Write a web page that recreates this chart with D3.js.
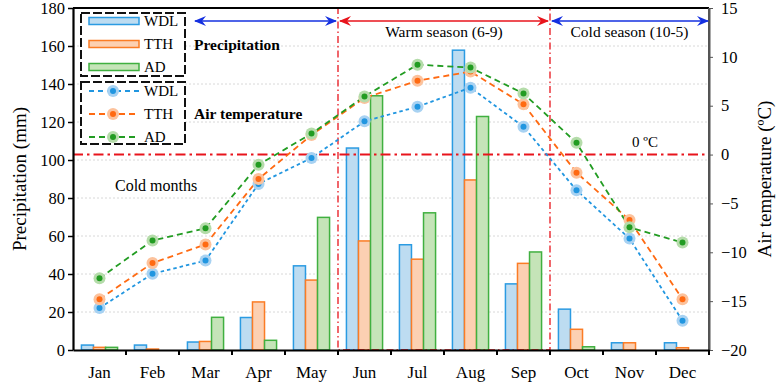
<!DOCTYPE html>
<html>
<head>
<meta charset="utf-8">
<script src="https://cdn.jsdelivr.net/npm/d3@7"></script>
<style>
  body { margin: 0; background: #fff; }
  svg { display: block; }
  svg text { font-family: "Liberation Serif", "DejaVu Serif", serif !important; }
</style>
</head>
<body>
<div id="chart"></div>
<script>
// monthly precipitation (bars) and air temperature (lines) for three stations
const months = ["Jan","Feb","Mar","Apr","May","Jun","Jul","Aug","Sep","Oct","Nov","Dec"];
const stations = ["WDL","TTH","AD"];

const precipWDL = [2.6, 2.6, 4.2, 17.1, 44.3, 106.3, 55.4, 157.8, 34.8, 21.5, 3.8, 3.8];
const precipTTH = [1.4, 0.5, 4.5, 25.3, 36.8, 57.4, 47.8, 89.5, 45.6, 10.9, 3.8, 1.2];
const precipAD  = [1.4, 0, 17.2, 5.1, 69.8, 133.8, 72.2, 122.9, 51.6, 1.7, 0, 0];

const tempWDL = [-15.7, -12.2, -10.85, -3.0, -0.35, 3.4, 4.9, 6.85, 2.85, -3.65, -8.6, -17.0];
const tempTTH = [-14.8, -11.1, -9.2, -2.5, 2.0, 5.8, 7.55, 8.5, 5.15, -1.85, -6.7, -14.8];
const tempAD  = [-12.65, -8.8, -7.55, -1.05, 2.15, 5.95, 9.2, 8.9, 6.25, 1.2, -7.45, -9.0];

const precipTicks = [0, 20, 40, 60, 80, 100, 120, 140, 160, 180];
const tempTicks = [-20, -15, -10, -5, 0, 5, 10, 15];

const barFill   = {WDL: "#bddcf1", TTH: "#fcd0b2", AD: "#c5e4b8"};
const barStroke = {WDL: "#2b9be2", TTH: "#fb7c25", AD: "#40b040"};
const lineColor = {WDL: "#2196e0", TTH: "#ff6a12", AD: "#229c22"};
const haloColor = {WDL: "#a8d2f2", TTH: "#fcc29c", AD: "#b5dcaa"};
const lineDash  = {WDL: "3.5,3", TTH: "6,4", AD: "6,4"};

const precip = {WDL: precipWDL, TTH: precipTTH, AD: precipAD};
const temp = {WDL: tempWDL, TTH: tempTTH, AD: tempAD};

const W = 782, H = 386;
const margin = {top: 8, right: 73, bottom: 36, left: 73};
const red = "#e8141c";
const serif = "Liberation Serif";

const svg = d3.select("#chart").append("svg")
  .attr("width", W)
  .attr("height", H)
  .attr("font-family", serif);

const x = d3.scaleBand()
  .domain(months)
  .range([margin.left, W - margin.right])
  .padding(0);

const xs = d3.scaleBand()
  .domain(stations)
  .range([0, x.bandwidth()])
  .paddingInner(0)
  .paddingOuter(0.7);

const y = d3.scaleLinear().domain([0, 180]).range([H - margin.bottom, margin.top]);
const yT = d3.scaleLinear().domain([-20, 15]).range([H - margin.bottom, margin.top]);

const x0 = margin.left, x1 = W - margin.right;
const yTop = margin.top, yBot = H - margin.bottom;

// grid lines (dotted, light)
svg.append("g")
  .selectAll("line")
  .data(precipTicks.filter(d => d > 0 && d < 180))
  .join("line")
  .attr("x1", x0).attr("x2", x1)
  .attr("y1", d => y(d)).attr("y2", d => y(d))
  .attr("stroke", "#d8d8d8")
  .attr("stroke-width", 1)
  .attr("stroke-dasharray", "2,2");

// bars
svg.append("g")
  .selectAll("g")
  .data(months)
  .join("g")
  .attr("transform", d => `translate(${x(d)},0)`)
  .selectAll("rect")
  .data((m, i) => stations.map(s => ({s, v: precip[s][i]})))
  .join("rect")
  .attr("x", d => xs(d.s))
  .attr("y", d => y(d.v))
  .attr("width", xs.bandwidth())
  .attr("height", d => y(0) - y(d.v))
  .attr("fill", d => barFill[d.s])
  .attr("stroke", d => barStroke[d.s])
  .attr("stroke-width", 1.5);

// warm season box (red dash-dot)
const xJun = x("Jun"), xOct = x("Oct");
svg.append("rect")
  .attr("x", xJun).attr("y", yTop)
  .attr("width", xOct - xJun).attr("height", yBot - yTop)
  .attr("fill", "none")
  .attr("stroke", red)
  .attr("stroke-width", 1.3)
  .attr("stroke-dasharray", "7,3,1.5,3");

// 0 degC line
svg.append("line")
  .attr("x1", x0).attr("x2", x1)
  .attr("y1", yT(0)).attr("y2", yT(0))
  .attr("stroke", red)
  .attr("stroke-width", 2)
  .attr("stroke-dasharray", "10,4,2.5,4");

svg.append("text")
  .attr("x", 645).attr("y", yT(0) - 8)
  .attr("text-anchor", "middle")
  .attr("font-size", "15px")
  .text("0 ºC");

// temperature lines
const line = d3.line()
  .x((d, i) => x(months[i]) + x.bandwidth() / 2)
  .y(d => yT(d));

stations.forEach(s => {
  svg.append("path")
    .datum(temp[s])
    .attr("d", line)
    .attr("fill", "none")
    .attr("stroke", lineColor[s])
    .attr("stroke-width", 1.8)
    .attr("stroke-dasharray", lineDash[s]);
});

stations.forEach(s => {
  const g = svg.append("g");
  g.selectAll("circle.halo")
    .data(temp[s])
    .join("circle")
    .attr("class", "halo")
    .attr("cx", (d, i) => x(months[i]) + x.bandwidth() / 2)
    .attr("cy", d => yT(d))
    .attr("r", 6)
    .attr("fill", haloColor[s]);
  g.selectAll("circle.dot")
    .data(temp[s])
    .join("circle")
    .attr("class", "dot")
    .attr("cx", (d, i) => x(months[i]) + x.bandwidth() / 2)
    .attr("cy", d => yT(d))
    .attr("r", 3)
    .attr("fill", lineColor[s]);
});

// frame
svg.append("line").attr("x1", x0).attr("x2", x1).attr("y1", yTop).attr("y2", yTop)
  .attr("stroke", "#000").attr("stroke-width", 2);
svg.append("line").attr("x1", x1).attr("x2", x1).attr("y1", yTop).attr("y2", yBot)
  .attr("stroke", "#555").attr("stroke-width", 2);

// left axis
const yAxis = svg.append("g")
  .attr("transform", `translate(${x0},0)`)
  .call(d3.axisLeft(y).tickValues(precipTicks).tickSize(5).tickSizeOuter(0));
yAxis.attr("font-family", serif);
yAxis.select(".domain").attr("stroke-width", 2.2);
yAxis.selectAll(".tick line").attr("stroke-width", 1.5);
yAxis.selectAll("text")
  .attr("font-size", "16.5px")
  .attr("fill", "#000")
  .attr("x", -8);

// right axis
const yAxisR = svg.append("g")
  .attr("transform", `translate(${x1},0)`)
  .call(d3.axisRight(yT).tickValues(tempTicks).tickSize(4).tickSizeOuter(0));
yAxisR.attr("font-family", serif);
yAxisR.select(".domain").attr("stroke", "#555").attr("stroke-width", 2);
yAxisR.selectAll(".tick line").attr("stroke", "#555");
yAxisR.selectAll("text")
  .attr("font-size", "16.5px")
  .attr("fill", "#000")
  .attr("x", 12);

// bottom axis
const xAxis = svg.append("g")
  .attr("transform", `translate(0,${yBot})`)
  .call(d3.axisBottom(x).tickSize(0).tickSizeOuter(0));
xAxis.attr("font-family", serif);
xAxis.select(".domain").attr("stroke-width", 2.2);
xAxis.selectAll("text")
  .attr("font-size", "17px")
  .attr("fill", "#000")
  .attr("y", 16);
svg.append("g")
  .selectAll("line")
  .data(months.slice(1).concat(["end"]))
  .join("line")
  .attr("x1", d => d === "end" ? x1 : x(d))
  .attr("x2", d => d === "end" ? x1 : x(d))
  .attr("y1", yBot).attr("y2", yBot + 5)
  .attr("stroke", "#000").attr("stroke-width", 2);

// axis titles
svg.append("text")
  .attr("transform", `translate(22,${(yTop + yBot) / 2}) rotate(-90)`)
  .attr("text-anchor", "middle")
  .attr("dominant-baseline", "middle")
  .attr("font-size", "19px")
  .text("Precipitation (mm)");

svg.append("text")
  .attr("transform", `translate(767,${(yTop + yBot) / 2}) rotate(-90)`)
  .attr("text-anchor", "middle")
  .attr("dominant-baseline", "middle")
  .attr("font-size", "19px")
  .text("Air temperature (ºC)");

// season arrows
const defs = svg.append("defs");
function marker(id, color, orient) {
  defs.append("marker")
    .attr("id", id)
    .attr("viewBox", "0 0 12 10")
    .attr("refX", 11).attr("refY", 5)
    .attr("markerWidth", 12).attr("markerHeight", 10)
    .attr("markerUnits", "userSpaceOnUse")
    .attr("orient", orient)
    .append("path")
    .attr("d", "M0,0 L12,5 L0,10 L4,5 Z")
    .attr("fill", color);
}
marker("arrBlue", "#1530e0", "auto-start-reverse");
marker("arrRed", red, "auto-start-reverse");

const arrowY = 21;
const arrows = [
  {a: 195, b: xJun - 2, c: "#1530e0", m: "arrBlue"},
  {a: xJun + 2, b: xOct - 2, c: red, m: "arrRed"},
  {a: xOct + 2, b: x1 - 1, c: "#1530e0", m: "arrBlue"}
];
svg.append("g")
  .selectAll("line")
  .data(arrows)
  .join("line")
  .attr("x1", d => d.a).attr("x2", d => d.b)
  .attr("y1", arrowY).attr("y2", arrowY)
  .attr("stroke", d => d.c)
  .attr("stroke-width", 1.3)
  .attr("marker-start", d => `url(#${d.m})`)
  .attr("marker-end", d => `url(#${d.m})`);

svg.append("text")
  .attr("x", (xJun + xOct) / 2).attr("y", 37)
  .attr("text-anchor", "middle")
  .attr("font-size", "15.5px")
  .text("Warm season (6-9)");
svg.append("text")
  .attr("x", (xOct + x1) / 2).attr("y", 37)
  .attr("text-anchor", "middle")
  .attr("font-size", "15.5px")
  .text("Cold season (10-5)");

svg.append("text")
  .attr("x", 115).attr("y", 191)
  .attr("font-size", "16px")
  .text("Cold months");

// legends
const legBox = [{y: 13, h: 63}, {y: 82, h: 62}];
svg.append("g")
  .selectAll("rect")
  .data(legBox)
  .join("rect")
  .attr("x", 81).attr("y", d => d.y)
  .attr("width", 104).attr("height", d => d.h)
  .attr("fill", "#fff")
  .attr("stroke", "#111")
  .attr("stroke-width", 2)
  .attr("stroke-dasharray", "9,3");

const legRowsBar = [21, 44, 67];
const legRowsLine = [91, 114, 137];
stations.forEach((s, i) => {
  svg.append("rect")
    .attr("x", 89).attr("y", legRowsBar[i] - 3.5)
    .attr("width", 50).attr("height", 7)
    .attr("fill", barFill[s])
    .attr("stroke", barStroke[s])
    .attr("stroke-width", 1.5);
  svg.append("text")
    .attr("x", 144).attr("y", legRowsBar[i])
    .attr("dominant-baseline", "central")
    .attr("font-size", "15px")
    .text(s);
  svg.append("line")
    .attr("x1", 89).attr("x2", 139)
    .attr("y1", legRowsLine[i]).attr("y2", legRowsLine[i])
    .attr("stroke", lineColor[s])
    .attr("stroke-width", 1.8)
    .attr("stroke-dasharray", lineDash[s] === "3.5,3" ? "5,4" : "6,4");
  svg.append("circle")
    .attr("cx", 113).attr("cy", legRowsLine[i]).attr("r", 6)
    .attr("fill", haloColor[s]);
  svg.append("circle")
    .attr("cx", 113).attr("cy", legRowsLine[i]).attr("r", 3)
    .attr("fill", lineColor[s]);
  svg.append("text")
    .attr("x", 144).attr("y", legRowsLine[i])
    .attr("dominant-baseline", "central")
    .attr("font-size", "15px")
    .text(s);
});

svg.append("text")
  .attr("x", 194).attr("y", 44)
  .attr("dominant-baseline", "central")
  .attr("font-size", "15.5px")
  .attr("font-weight", "bold")
  .text("Precipitation");
svg.append("text")
  .attr("x", 194).attr("y", 113)
  .attr("dominant-baseline", "central")
  .attr("font-size", "15.5px")
  .attr("font-weight", "bold")
  .text("Air temperature");
</script>
</body>
</html>
